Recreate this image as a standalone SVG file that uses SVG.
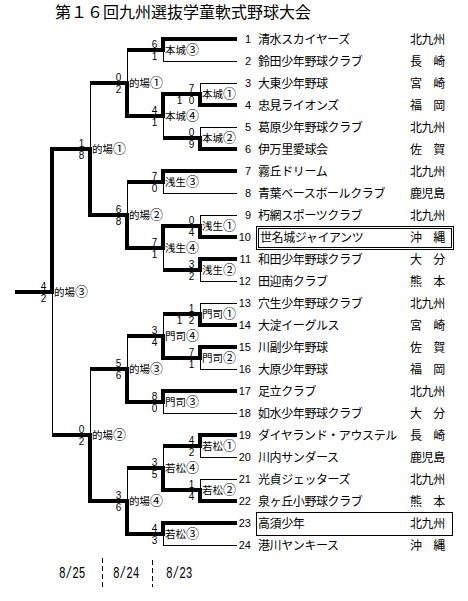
<svg xmlns="http://www.w3.org/2000/svg" width="468" height="601" viewBox="0 0 468 601">
<style>
.thin{stroke:#000;stroke-width:1;fill:none;shape-rendering:crispEdges}
.thick{stroke:#000;stroke-width:4;fill:none;stroke-linejoin:miter;shape-rendering:crispEdges}
.dash{stroke:#000;stroke-width:1;stroke-dasharray:4.5 3.5;shape-rendering:crispEdges}
.box{stroke:#000;stroke-width:1;fill:none;shape-rendering:crispEdges}
text{fill:#000}
.cjk{font-family:"Noto Sans CJK JP","Noto Sans CJK SC",sans-serif}
.sc{font-family:"Liberation Sans",sans-serif;font-size:10px;text-anchor:middle}
.lb{font-family:"Noto Sans CJK JP",sans-serif;font-size:10.5px}
.lb tspan{font-size:13px}
.nm{font-family:"Noto Sans CJK JP",sans-serif;font-size:12px;letter-spacing:-0.4px}
.no{font-family:"Liberation Sans",sans-serif;font-size:11px;text-anchor:end}
.dt{font-family:"Liberation Mono",monospace;font-size:12px}
</style>
<rect width="468" height="601" fill="#fff"/>
<text class="cjk" x="55" y="18" font-size="16">第１６回九州選抜学童軟式野球大会</text>

<g id="connectors">
<path class="thin" d="M163 39H237M163 61H237M200 83H237M200 105H237M200 127H237M200 149H237M163 171H237M163 193H237M200 215H237M200 237H237M200 259H237M200 281H237M200 303H237M200 325H237M200 347H237M200 369H237M163 391H237M163 413H237M200 435H237M200 457H237M200 479H237M200 501H237M163 523H237M163 545H237"/>
<path class="thin" d="M163 39V61M200 83V105M200 127V149M163 94V138M127 50V116M163 171V193M200 215V237M200 259V281M163 226V270M127 182V248M90 83V215M200 303V325M200 347V369M163 314V358M163 391V413M127 336V402M200 435V457M200 479V501M163 446V490M163 523V545M127 468V534M90 369V501M52 149V435"/>
<path class="thick" d="M237 39H163V50H127"/>
<path class="thick" d="M237 105H200V94H163"/>
<path class="thick" d="M237 149H200V138H163"/>
<path class="thick" d="M200 94H163V116H127"/>
<path class="thick" d="M163 116H127V83H90"/>
<path class="thick" d="M237 171H163V182H127"/>
<path class="thick" d="M237 237H200V226H163"/>
<path class="thick" d="M237 259H200V270H163"/>
<path class="thick" d="M200 226H163V248H127"/>
<path class="thick" d="M163 248H127V215H90"/>
<path class="thick" d="M127 215H90V149H52"/>
<path class="thick" d="M237 325H200V314H163"/>
<path class="thick" d="M237 347H200V358H163"/>
<path class="thick" d="M200 358H163V336H127"/>
<path class="thick" d="M237 391H163V402H127"/>
<path class="thick" d="M163 402H127V369H90"/>
<path class="thick" d="M237 435H200V446H163"/>
<path class="thick" d="M237 501H200V490H163"/>
<path class="thick" d="M200 490H163V468H127"/>
<path class="thick" d="M237 523H163V534H127"/>
<path class="thick" d="M163 534H127V501H90"/>
<path class="thick" d="M127 501H90V435H52"/>
<path class="thick" d="M90 149H52V292H15"/>
</g>

<g id="matches">
<g id="m-honjo3"><text class="sc" x="154.5" y="48">6</text><text class="sc" x="154.5" y="59.5">1</text><text class="lb" x="165" y="54">本城<tspan>③</tspan></text></g>
<g id="m-honjo1"><text class="sc" x="191.5" y="92">7</text><text class="sc" x="179.5 191.5" y="103.5">10</text><text class="lb" x="202" y="98">本城<tspan>①</tspan></text></g>
<g id="m-honjo2"><text class="sc" x="191.5" y="136">0</text><text class="sc" x="191.5" y="147.5">9</text><text class="lb" x="202" y="142">本城<tspan>②</tspan></text></g>
<g id="m-honjo4"><text class="sc" x="154.5" y="114">4</text><text class="sc" x="154.5" y="125.5">1</text><text class="lb" x="165" y="120">本城<tspan>④</tspan></text></g>
<g id="m-matoba1a"><text class="sc" x="118.5" y="81">0</text><text class="sc" x="118.5" y="92.5">2</text><text class="lb" x="129" y="87">的場<tspan>①</tspan></text></g>
<g id="m-aso3"><text class="sc" x="154.5" y="180">7</text><text class="sc" x="154.5" y="191.5">0</text><text class="lb" x="165" y="186">浅生<tspan>③</tspan></text></g>
<g id="m-aso1"><text class="sc" x="191.5" y="224">0</text><text class="sc" x="191.5" y="235.5">4</text><text class="lb" x="202" y="230">浅生<tspan>①</tspan></text></g>
<g id="m-aso2"><text class="sc" x="191.5" y="268">3</text><text class="sc" x="191.5" y="279.5">2</text><text class="lb" x="202" y="274">浅生<tspan>②</tspan></text></g>
<g id="m-aso4"><text class="sc" x="154.5" y="246">7</text><text class="sc" x="154.5" y="257.5">1</text><text class="lb" x="165" y="252">浅生<tspan>④</tspan></text></g>
<g id="m-matoba2a"><text class="sc" x="118.5" y="213">6</text><text class="sc" x="118.5" y="224.5">8</text><text class="lb" x="129" y="219">的場<tspan>②</tspan></text></g>
<g id="m-matoba1b"><text class="sc" x="81.5" y="147">1</text><text class="sc" x="81.5" y="158.5">8</text><text class="lb" x="92" y="153">的場<tspan>①</tspan></text></g>
<g id="m-moji1"><text class="sc" x="191.5" y="312">1</text><text class="sc" x="179.5 191.5" y="323.5">12</text><text class="lb" x="202" y="318">門司<tspan>①</tspan></text></g>
<g id="m-moji2"><text class="sc" x="191.5" y="356">7</text><text class="sc" x="191.5" y="367.5">1</text><text class="lb" x="202" y="362">門司<tspan>②</tspan></text></g>
<g id="m-moji4"><text class="sc" x="154.5" y="334">3</text><text class="sc" x="154.5" y="345.5">4</text><text class="lb" x="165" y="340">門司<tspan>④</tspan></text></g>
<g id="m-moji3"><text class="sc" x="154.5" y="400">8</text><text class="sc" x="154.5" y="411.5">0</text><text class="lb" x="165" y="406">門司<tspan>③</tspan></text></g>
<g id="m-matoba3a"><text class="sc" x="118.5" y="367">5</text><text class="sc" x="118.5" y="378.5">6</text><text class="lb" x="129" y="373">的場<tspan>③</tspan></text></g>
<g id="m-waka1"><text class="sc" x="191.5" y="444">4</text><text class="sc" x="191.5" y="455.5">2</text><text class="lb" x="202" y="450">若松<tspan>①</tspan></text></g>
<g id="m-waka2"><text class="sc" x="191.5" y="488">1</text><text class="sc" x="191.5" y="499.5">4</text><text class="lb" x="202" y="494">若松<tspan>②</tspan></text></g>
<g id="m-waka4"><text class="sc" x="154.5" y="466">3</text><text class="sc" x="154.5" y="477.5">5</text><text class="lb" x="165" y="472">若松<tspan>④</tspan></text></g>
<g id="m-waka3"><text class="sc" x="154.5" y="532">4</text><text class="sc" x="154.5" y="543.5">3</text><text class="lb" x="165" y="538">若松<tspan>③</tspan></text></g>
<g id="m-matoba4"><text class="sc" x="118.5" y="499">3</text><text class="sc" x="118.5" y="510.5">6</text><text class="lb" x="129" y="505">的場<tspan>④</tspan></text></g>
<g id="m-matoba2b"><text class="sc" x="81.5" y="433">0</text><text class="sc" x="81.5" y="444.5">2</text><text class="lb" x="92" y="439">的場<tspan>②</tspan></text></g>
<g id="m-final"><text class="sc" x="43.5" y="290">4</text><text class="sc" x="43.5" y="301.5">2</text><text class="lb" x="54" y="296">的場<tspan>③</tspan></text></g>
</g>

<g id="teams">
<g id="t1"><text class="no" x="251" y="43">1</text><text class="nm" x="258" y="43.5">清水スカイヤーズ</text><text class="nm" x="410" y="43.5">北九州</text></g>
<g id="t2"><text class="no" x="251" y="65">2</text><text class="nm" x="258" y="65.5">鈴田少年野球クラブ</text><text class="nm" x="410" y="65.5">長　崎</text></g>
<g id="t3"><text class="no" x="251" y="87">3</text><text class="nm" x="258" y="87.5">大東少年野球</text><text class="nm" x="410" y="87.5">宮　崎</text></g>
<g id="t4"><text class="no" x="251" y="109">4</text><text class="nm" x="258" y="109.5">忠見ライオンズ</text><text class="nm" x="410" y="109.5">福　岡</text></g>
<g id="t5"><text class="no" x="251" y="131">5</text><text class="nm" x="258" y="131.5">葛原少年野球クラブ</text><text class="nm" x="410" y="131.5">北九州</text></g>
<g id="t6"><text class="no" x="251" y="153">6</text><text class="nm" x="258" y="153.5">伊万里愛球会</text><text class="nm" x="410" y="153.5">佐　賀</text></g>
<g id="t7"><text class="no" x="251" y="175">7</text><text class="nm" x="258" y="175.5">霧丘ドリーム</text><text class="nm" x="410" y="175.5">北九州</text></g>
<g id="t8"><text class="no" x="251" y="197">8</text><text class="nm" x="258" y="197.5">青葉ベースボールクラブ</text><text class="nm" x="410" y="197.5">鹿児島</text></g>
<g id="t9"><text class="no" x="251" y="219">9</text><text class="nm" x="258" y="219.5">朽網スポーツクラブ</text><text class="nm" x="410" y="219.5">北九州</text></g>
<g id="t10"><rect class="box" x="256" y="226" width="197" height="23"/><rect class="box" x="258" y="228" width="193" height="19"/><text class="no" x="251" y="241">10</text><text class="nm" x="260" y="241.5">世名城ジャイアンツ</text><text class="nm" x="410" y="241.5">沖　縄</text></g>
<g id="t11"><text class="no" x="251" y="263">11</text><text class="nm" x="258" y="263.5">和田少年野球クラブ</text><text class="nm" x="410" y="263.5">大　分</text></g>
<g id="t12"><text class="no" x="251" y="285">12</text><text class="nm" x="258" y="285.5">田迎南クラブ</text><text class="nm" x="410" y="285.5">熊　本</text></g>
<g id="t13"><text class="no" x="251" y="307">13</text><text class="nm" x="258" y="307.5">穴生少年野球クラブ</text><text class="nm" x="410" y="307.5">北九州</text></g>
<g id="t14"><text class="no" x="251" y="329">14</text><text class="nm" x="258" y="329.5">大淀イーグルス</text><text class="nm" x="410" y="329.5">宮　崎</text></g>
<g id="t15"><text class="no" x="251" y="351">15</text><text class="nm" x="258" y="351.5">川副少年野球</text><text class="nm" x="410" y="351.5">佐　賀</text></g>
<g id="t16"><text class="no" x="251" y="373">16</text><text class="nm" x="258" y="373.5">大原少年野球</text><text class="nm" x="410" y="373.5">福　岡</text></g>
<g id="t17"><text class="no" x="251" y="395">17</text><text class="nm" x="258" y="395.5">足立クラブ</text><text class="nm" x="410" y="395.5">北九州</text></g>
<g id="t18"><text class="no" x="251" y="417">18</text><text class="nm" x="258" y="417.5">如水少年野球クラブ</text><text class="nm" x="410" y="417.5">大　分</text></g>
<g id="t19"><text class="no" x="251" y="439">19</text><text class="nm" x="258" y="439.5">ダイヤランド・アウステル</text><text class="nm" x="410" y="439.5">長　崎</text></g>
<g id="t20"><text class="no" x="251" y="461">20</text><text class="nm" x="258" y="461.5">川内サンダース</text><text class="nm" x="410" y="461.5">鹿児島</text></g>
<g id="t21"><text class="no" x="251" y="483">21</text><text class="nm" x="258" y="483.5">光貞ジェッターズ</text><text class="nm" x="410" y="483.5">北九州</text></g>
<g id="t22"><text class="no" x="251" y="505">22</text><text class="nm" x="258" y="505.5">泉ヶ丘小野球クラブ</text><text class="nm" x="410" y="505.5">熊　本</text></g>
<g id="t23"><rect class="box" x="256" y="512" width="196" height="23"/><text class="no" x="251" y="527">23</text><text class="nm" x="258" y="527.5">高須少年</text><text class="nm" x="410" y="527.5">北九州</text></g>
<g id="t24"><text class="no" x="251" y="549">24</text><text class="nm" x="258" y="549.5">港川ヤンキース</text><text class="nm" x="410" y="549.5">沖　縄</text></g>
</g>

<g id="dates">
<line class="dash" x1="102" y1="558" x2="102" y2="587"/>
<line class="dash" x1="152" y1="560" x2="152" y2="587"/>
<text class="dt" transform="translate(59 578) scale(0.92 1.35)">8/25</text>
<text class="dt" transform="translate(113 578) scale(0.92 1.35)">8/24</text>
<text class="dt" transform="translate(166 578) scale(0.92 1.35)">8/23</text>
</g>
</svg>
